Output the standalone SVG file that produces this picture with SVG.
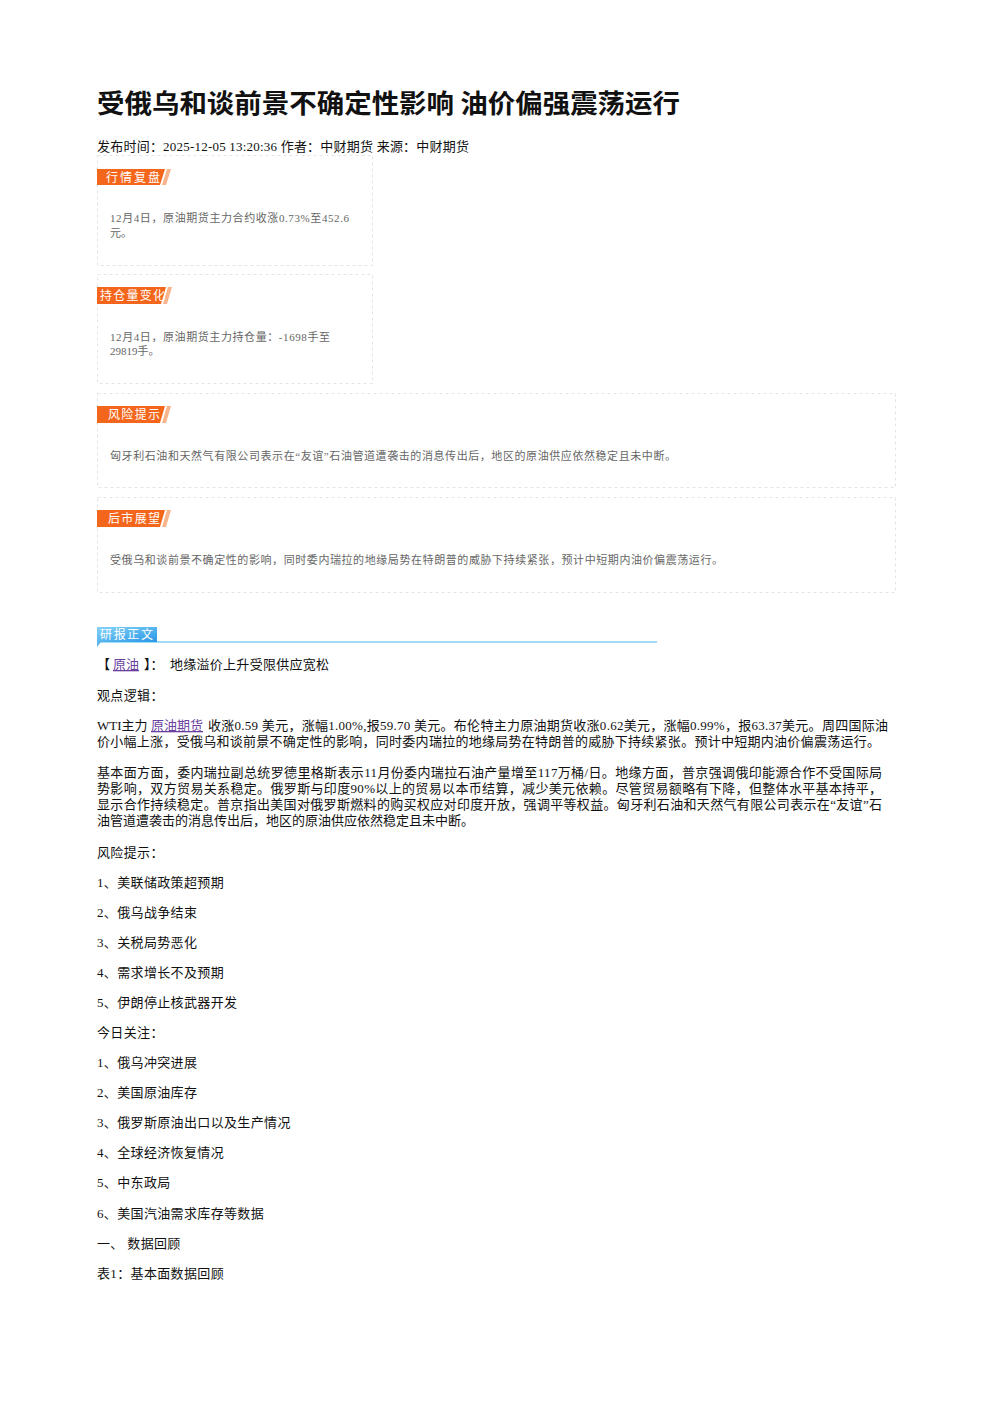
<svg xmlns="http://www.w3.org/2000/svg" width="992" height="1403" viewBox="0 0 992 1403">
<defs>
<linearGradient id="blueg" x1="0" y1="0" x2="1" y2="1">
<stop offset="0" stop-color="#86d4f7"/>
<stop offset="1" stop-color="#2996e6"/>
</linearGradient>
</defs>
<style>
.t{font-family:"Liberation Serif","Noto Sans CJK SC",serif;font-size:13px;fill:#111}
.l{letter-spacing:0.35px}
.title{font-family:"Noto Sans CJK SC","Liberation Sans",sans-serif;font-size:26px;font-weight:bold;fill:#111}
.box{fill:none;stroke:#e4e4e4;stroke-width:1;stroke-dasharray:3 3}
.tab{fill:#f4661b}
.slash{fill:#f9b48c}
.tabt{font-family:"Noto Sans CJK SC","Liberation Sans",sans-serif;font-size:12px;fill:#fff}
.bt{font-family:"Liberation Serif","Noto Sans CJK SC",serif;font-size:11px;fill:#666}
.link{fill:#6b3fa0;text-decoration:underline}
</style>
<rect x="0" y="0" width="992" height="1403" fill="#fff"/>

<g id="header">
<text class="title" x="97" y="113" textLength="583" lengthAdjust="spacingAndGlyphs">受俄乌和谈前景不确定性影响 油价偏强震荡运行</text>
<text class="t" x="97" y="151" textLength="372">发布时间：2025-12-05 13:20:36 作者：中财期货 来源：中财期货</text>
</g>

<g id="box-hangqing">
<rect class="box" x="97.5" y="155.5" width="275" height="110"/>
<polygon class="tab" points="97,169 165,169 160,185 97,185"/>
<polygon class="slash" points="167,169 171,169 166,185 162,185"/>
<text class="tabt" x="106" y="181.5" textLength="54">行情复盘</text>
<text class="bt" x="110" y="222" textLength="239">12月4日，原油期货主力合约收涨0.73%至452.6</text>
<text class="bt" x="110" y="237">元。</text>
</g>

<g id="box-chicang">
<rect class="box" x="97.5" y="274.5" width="275" height="109"/>
<polygon class="tab" points="97,287 166,287 161,304 97,304"/>
<polygon class="slash" points="168,287 172,287 167,304 163,304"/>
<text class="tabt" x="100" y="299.5" textLength="65">持仓量变化</text>
<text class="bt" x="110" y="341" textLength="220">12月4日，原油期货主力持仓量：-1698手至</text>
<text class="bt" x="110" y="355">29819手。</text>
</g>

<g id="box-fengxian">
<rect class="box" x="97.5" y="393.5" width="798" height="94"/>
<polygon class="tab" points="97,406 165,406 160,423 97,423"/>
<polygon class="slash" points="167,406 171,406 166,423 162,423"/>
<text class="tabt" x="108" y="418.5" textLength="52">风险提示</text>
<text class="bt" x="110" y="460" textLength="566">匈牙利石油和天然气有限公司表示在“友谊”石油管道遭袭击的消息传出后，地区的原油供应依然稳定且未中断。</text>
</g>

<g id="box-houshi">
<rect class="box" x="97.5" y="497.5" width="798" height="95"/>
<polygon class="tab" points="97,510 165,510 160,527 97,527"/>
<polygon class="slash" points="167,510 171,510 166,527 162,527"/>
<text class="tabt" x="108" y="522.5" textLength="52">后市展望</text>
<text class="bt" x="110" y="564" textLength="613">受俄乌和谈前景不确定性的影响，同时委内瑞拉的地缘局势在特朗普的威胁下持续紧张，预计中短期内油价偏震荡运行。</text>
</g>

<g id="section-yanbao">
<line x1="97" y1="642" x2="657" y2="642" stroke="#80d2f7" stroke-width="1.5"/>
<rect x="97" y="627" width="60" height="15" fill="url(#blueg)"/>
<polygon points="97,642 101,642 97,647" fill="#5fb8ea"/>
<text class="tabt" x="100" y="639" textLength="53">研报正文</text>
</g>

<g id="body">
<text class="t" x="97" y="669">【</text>
<text class="t link" x="113" y="669">原油 </text>
<text class="t" x="144" y="669">】：</text>
<text class="t" x="170" y="669" textLength="159">地缘溢价上升受限供应宽松</text>
<text class="t l" x="97" y="700">观点逻辑：</text>

<text class="t" x="97" y="730">WTI主力</text>
<text class="t link" x="151" y="730">原油期货 </text>
<text class="t" x="208" y="730" textLength="680">收涨0.59 美元，涨幅1.00%,报59.70 美元。布伦特主力原油期货收涨0.62美元，涨幅0.99%，报63.37美元。周四国际油</text>
<text class="t" x="97" y="746" textLength="783">价小幅上涨，受俄乌和谈前景不确定性的影响，同时委内瑞拉的地缘局势在特朗普的威胁下持续紧张。预计中短期内油价偏震荡运行。</text>

<text class="t" x="97" y="777" textLength="785">基本面方面，委内瑞拉副总统罗德里格斯表示11月份委内瑞拉石油产量增至117万桶/日。地缘方面，普京强调俄印能源合作不受国际局</text>
<text class="t" x="97" y="793" textLength="785">势影响，双方贸易关系稳定。俄罗斯与印度90%以上的贸易以本币结算，减少美元依赖。尽管贸易额略有下降，但整体水平基本持平，</text>
<text class="t" x="97" y="809" textLength="785">显示合作持续稳定。普京指出美国对俄罗斯燃料的购买权应对印度开放，强调平等权益。匈牙利石油和天然气有限公司表示在“友谊”石</text>
<text class="t" x="97" y="825">油管道遭袭击的消息传出后，地区的原油供应依然稳定且未中断。</text>

<text class="t l" x="97" y="857">风险提示：</text>
<text class="t l" x="97" y="887">1、美联储政策超预期</text>
<text class="t l" x="97" y="917">2、俄乌战争结束</text>
<text class="t l" x="97" y="947">3、关税局势恶化</text>
<text class="t l" x="97" y="977">4、需求增长不及预期</text>
<text class="t l" x="97" y="1007">5、伊朗停止核武器开发</text>
<text class="t l" x="97" y="1037">今日关注：</text>
<text class="t l" x="97" y="1067">1、俄乌冲突进展</text>
<text class="t l" x="97" y="1097">2、美国原油库存</text>
<text class="t l" x="97" y="1127">3、俄罗斯原油出口以及生产情况</text>
<text class="t l" x="97" y="1157">4、全球经济恢复情况</text>
<text class="t l" x="97" y="1187">5、中东政局</text>
<text class="t l" x="97" y="1218">6、美国汽油需求库存等数据</text>
<text class="t l" x="97" y="1248">一、 数据回顾</text>
<text class="t l" x="97" y="1278">表1：基本面数据回顾</text>
</g>
</svg>
